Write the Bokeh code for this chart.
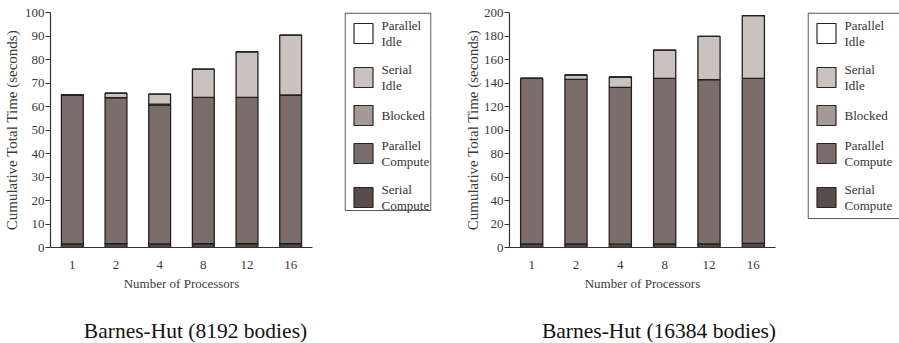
from bokeh.plotting import figure
from bokeh.models import Range1d, FactorRange, FixedTicker, ColumnDataSource
from bokeh.layouts import row, column
from bokeh.embed import file_html
from bokeh.resources import INLINE
from bokeh.core.properties import value

FONT = "Liberation Serif"

processors = ["1", "2", "4", "8", "12", "16"]
series = ["Serial Compute", "Parallel Compute", "Blocked", "Serial Idle", "Parallel Idle"]
legend_order = ["Parallel Idle", "Serial Idle", "Blocked", "Parallel Compute", "Serial Compute"]
legend_text = ["Parallel\nIdle", "Serial\nIdle", "Blocked", "Parallel\nCompute", "Serial\nCompute"]
colors = {
    "Serial Compute": "#594d4a",
    "Parallel Compute": "#7b6e6a",
    "Blocked": "#a69995",
    "Serial Idle": "#cac2bf",
    "Parallel Idle": "#ffffff",
}

# Barnes-Hut (8192 bodies)
bh8192_serial_compute = [1.5, 1.6, 1.5, 1.6, 1.6, 1.6]
bh8192_parallel_compute = [63.4, 62.2, 59.1, 62.3, 62.3, 63.3]
bh8192_blocked = [0.0, 0.0, 0.4, 0.0, 0.0, 0.0]
bh8192_serial_idle = [0.1, 1.9, 4.3, 12.0, 19.4, 25.5]
bh8192_parallel_idle = [0.0, 0.0, 0.0, 0.0, 0.0, 0.0]

# Barnes-Hut (16384 bodies)
bh16384_serial_compute = [3.0, 3.0, 2.8, 3.0, 3.0, 3.5]
bh16384_parallel_compute = [140.9, 140.1, 133.5, 140.9, 139.8, 140.4]
bh16384_blocked = [0.0, 0.0, 0.0, 0.0, 0.0, 0.0]
bh16384_serial_idle = [0.0, 3.7, 8.8, 24.1, 36.8, 53.5]
bh16384_parallel_idle = [0.0, 0.0, 0.0, 0.0, 0.0, 0.0]

titles = ["Barnes-Hut (8192 bodies)", "Barnes-Hut (16384 bodies)"]
y_max = [100, 200]
y_ticks = [list(range(0, 101, 10)), list(range(0, 201, 20))]

H = 300          # chart row height
TH = 43          # title strip height
FRAME_TOP = 12
FRAME_BOTTOM = 247


def chart(data, ymax, ticks, width, bl, br, ylabel_size, ylabel_standoff):
    src = ColumnDataSource(dict(proc=processors, **dict(zip(series, data))))
    p = figure(x_range=FactorRange(*processors, range_padding=0), y_range=Range1d(0, ymax),
               width=width, height=H, output_backend="svg", toolbar_location=None,
               min_border_left=bl, min_border_right=br, min_border_top=FRAME_TOP,
               min_border_bottom=H - FRAME_BOTTOM)
    p.vbar_stack(series, x="proc", width=0.5, source=src, color=[colors[s] for s in series],
                 line_color="#241f1f", line_width=1.3)
    p.outline_line_color = None
    p.grid.grid_line_color = None
    p.background_fill_color = "white"
    for ax in (p.xaxis[0], p.yaxis[0]):
        ax.axis_line_color = "#333333"
        ax.axis_line_width = 1.2
        ax.major_label_text_font = FONT
        ax.major_label_text_font_size = "13px"
        ax.major_label_text_color = "#3a3a3a"
        ax.axis_label_text_font = FONT
        ax.axis_label_text_font_style = "normal"
        ax.axis_label_text_color = "#3a3a3a"
        ax.minor_tick_line_color = None
    xa = p.xaxis[0]
    xa.major_tick_line_color = None
    xa.major_tick_out = 0
    xa.major_tick_in = 0
    xa.major_label_standoff = 13
    xa.axis_label = "Number of Processors"
    xa.axis_label_text_font_size = "13px"
    xa.axis_label_standoff = 4
    ya = p.yaxis[0]
    ya.ticker = FixedTicker(ticks=ticks)
    ya.major_tick_out = 5
    ya.major_tick_in = 0
    ya.major_tick_line_color = "#333333"
    ya.major_label_standoff = 1
    ya.axis_label = "Cumulative Total Time (seconds)"
    ya.axis_label_text_font_size = ylabel_size
    ya.axis_label_standoff = ylabel_standoff
    return p


def legend_fig(width, fw, bl, box_h, closed):
    fh = FRAME_BOTTOM - FRAME_TOP
    p = figure(x_range=Range1d(0, fw), y_range=Range1d(fh, 0), width=width, height=H,
               output_backend="svg", toolbar_location=None, min_border_left=bl,
               min_border_right=width - bl - fw, min_border_top=FRAME_TOP,
               min_border_bottom=H - FRAME_BOTTOM)
    p.axis.visible = False
    p.grid.grid_line_color = None
    p.outline_line_color = None
    ys = [21, 65, 103, 141, 185]
    p.rect(x=[19] * 5, y=ys, width=19, height=20, fill_color=[colors[s] for s in legend_order],
           line_color="#2a2525", line_width=1.2)
    p.text(x=[37] * 5, y=ys, text=legend_text, text_font=value(FONT), text_font_size="13px",
           text_baseline="middle", text_align="left", text_color="#333333", text_line_height=1.08)
    xr = fw - 0.6 if closed else fw
    x0 = [0.6, 0.6, 0.6] + ([xr] if closed else [])
    y0 = [0.6, 0.6, box_h] + ([0.6] if closed else [])
    x1 = [xr, 0.6, xr] + ([xr] if closed else [])
    y1 = [0.6, box_h, box_h] + ([box_h] if closed else [])
    p.segment(x0=x0, y0=y0, x1=x1, y1=y1, line_color="#555555", line_width=1.2)
    return p


def title_strip():
    p = figure(x_range=Range1d(0, 899), y_range=Range1d(TH, 0), width=899, height=TH,
               output_backend="svg", toolbar_location=None, min_border=0,
               x_axis_location=None, y_axis_location=None)
    p.grid.grid_line_color = None
    p.outline_line_color = None
    p.text(x=[195, 658.5], y=[30, 30], text=titles, text_font=value(FONT),
           text_font_size="21.5px", text_align="center", text_baseline="middle",
           text_color="#111111")
    return p


left = chart([bh8192_serial_compute, bh8192_parallel_compute, bh8192_blocked,
              bh8192_serial_idle, bh8192_parallel_idle], y_max[0], y_ticks[0],
             340, 49, 28, "15px", 2)
leg_left = legend_fig(110, 87, 4, 198, True)
right = chart([bh16384_serial_compute, bh16384_parallel_compute, bh16384_blocked,
               bh16384_serial_idle, bh16384_parallel_idle], y_max[1], y_ticks[1],
              345, 59, 20, "15px", 0)
leg_right = legend_fig(104, 92, 12, 206, False)

layout = column(row(left, leg_left, right, leg_right), title_strip())
open("out.html", "w").write(file_html(layout, INLINE))
